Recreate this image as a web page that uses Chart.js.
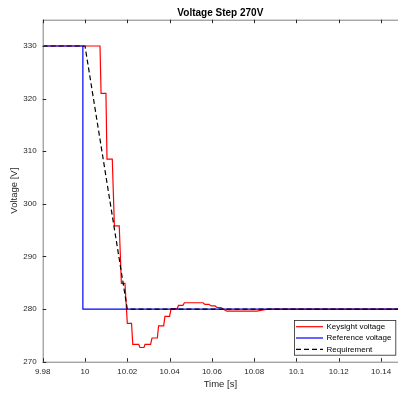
<!DOCTYPE html>
<html>
<head>
<meta charset="utf-8">
<script src="https://cdn.jsdelivr.net/npm/chart.js@4/dist/chart.umd.min.js"></script>
<style>
  html, body { margin: 0; padding: 0; background: #fff; overflow: hidden; }
  #wrap { width: 398px; height: 394px; }
</style>
</head>
<body>
<div id="wrap"><canvas id="c" width="398" height="394"></canvas></div>
<script>
// Axis ticks
const xTicks = [9.98, 10, 10.02, 10.04, 10.06, 10.08, 10.1, 10.12, 10.14];
const yTicks = [270, 280, 290, 300, 310, 320, 330];

// Measured output of the Keysight source (time in s, voltage in V)
const keysightTime = [9.98, 10.0071, 10.0076, 10.0099, 10.0104, 10.0129, 10.0139, 10.0162, 10.0172, 10.0189,
  10.0200, 10.0220, 10.0226, 10.0254, 10.0260, 10.0279, 10.0284, 10.0310, 10.0317, 10.0342,
  10.0348, 10.0372, 10.0378, 10.0400, 10.0407, 10.0436, 10.0442, 10.0463, 10.0470, 10.0558,
  10.0567, 10.0586, 10.0596, 10.0615, 10.0624, 10.0643, 10.0653, 10.0671, 10.0813, 10.0837,
  10.0865, 10.148];
const keysightVolt = [330, 330, 321, 321, 308.5, 308.5, 295.8, 295.8, 284.9, 284.9,
  277.3, 277.3, 273.3, 273.3, 272.7, 272.7, 273.3, 273.3, 274.5, 274.5,
  276.8, 276.8, 278.6, 278.6, 280.1, 280.1, 280.7, 280.7, 281.2, 281.2,
  280.9, 280.9, 280.6, 280.6, 280.3, 280.3, 280.0, 279.6, 279.6, 279.8,
  280.0, 280.0];

// Commanded reference step
const referenceTime = [9.98, 9.999, 9.999, 10.148];
const referenceVolt = [330, 330, 280, 280];

// Slew-rate requirement envelope
const requirementTime = [9.98, 10.0, 10.02, 10.148];
const requirementVolt = [330, 330, 280, 280];

const seriesNames = ['Keysight voltage', 'Reference voltage', 'Requirement'];
const titleText = 'Voltage Step 270V';
const xLabel = 'Time [s]';
const yLabel = 'Voltage [V]';

const zip = (xs, ys) => xs.map((x, i) => ({ x: x, y: ys[i] }));

const FONT = '"Liberation Sans", Arial, Helvetica, sans-serif';
const TEXT = '#262626';

// Box, inward tick marks, title and legend in the MATLAB figure style
const figureStyle = {
  id: 'figureStyle',
  afterDraw(chart) {
    const ctx = chart.ctx;
    const a = chart.chartArea;
    const xs = chart.scales.x, ys = chart.scales.y;
    const tl = 3.5;
    ctx.save();
    // axis lines
    ctx.strokeStyle = '#808080';
    ctx.lineWidth = 1;
    ctx.beginPath();
    ctx.moveTo(a.left + 0.5, a.top + 0.5);
    ctx.lineTo(a.right + 1, a.top + 0.5);
    ctx.moveTo(a.left + 0.5, a.top);
    ctx.lineTo(a.left + 0.5, a.bottom + 0.5);
    ctx.lineTo(a.right + 1, a.bottom + 0.5);
    ctx.stroke();
    // inward ticks
    ctx.strokeStyle = '#262626';
    ctx.beginPath();
    xTicks.forEach(v => {
      const px = Math.round(xs.getPixelForValue(v)) + 0.5;
      ctx.moveTo(px, a.bottom); ctx.lineTo(px, a.bottom - tl);
      ctx.moveTo(px, a.top); ctx.lineTo(px, a.top + tl);
    });
    yTicks.forEach(v => {
      const py = Math.round(ys.getPixelForValue(v)) + 0.5;
      ctx.moveTo(a.left, py); ctx.lineTo(a.left + tl, py);
    });
    ctx.stroke();

    // title
    ctx.fillStyle = '#000';
    ctx.font = 'bold 10px ' + FONT;
    ctx.textAlign = 'center';
    ctx.textBaseline = 'middle';
    ctx.fillText(titleText, (a.left + a.right) / 2, 13);

    // legend
    const ds = chart.data.datasets;
    const bx = a.right - 104, by = a.bottom - 41.7, bw = 101.3, bh = 34.7;
    ctx.fillStyle = '#fff';
    ctx.fillRect(bx, by, bw, bh);
    ctx.strokeStyle = '#262626';
    ctx.lineWidth = 0.8;
    ctx.strokeRect(bx + 0.5, by + 0.5, bw, bh);
    ctx.font = '8px ' + FONT;
    ctx.textAlign = 'left';
    ctx.textBaseline = 'middle';
    ds.forEach((d, i) => {
      const ry = by + 6.7 + i * 11.3;
      ctx.save();
      ctx.strokeStyle = d.borderColor;
      ctx.lineWidth = d.borderWidth;
      ctx.setLineDash(d.borderDash || []);
      ctx.beginPath();
      ctx.moveTo(bx + 2, ry); ctx.lineTo(bx + 29, ry);
      ctx.stroke();
      ctx.restore();
      ctx.fillStyle = '#000';
      ctx.fillText(d.label, bx + 32.5, ry);
    });
    ctx.restore();
  }
};

new Chart(document.getElementById('c'), {
  type: 'line',
  data: {
    datasets: [
      { label: seriesNames[0], data: zip(keysightTime, keysightVolt), borderColor: '#ff0000', borderWidth: 1.2, order: 3 },
      { label: seriesNames[1], data: zip(referenceTime, referenceVolt), borderColor: '#0000ff', borderWidth: 1.2, order: 2 },
      { label: seriesNames[2], data: zip(requirementTime, requirementVolt), borderColor: '#000000', borderWidth: 1.2, borderDash: [5, 3], order: 1 }
    ]
  },
  options: {
    responsive: false,
    devicePixelRatio: 1,
    animation: false,
    elements: { point: { radius: 0 }, line: { tension: 0 } },
    layout: { padding: { top: 19.7, right: 0, left: 0, bottom: 0 } },
    plugins: { legend: { display: false }, tooltip: { enabled: false }, title: { display: false } },
    scales: {
      x: {
        type: 'linear',
        min: 9.98,
        max: 10.148,
        afterBuildTicks: s => { s.ticks = xTicks.map(v => ({ value: v })); },
        afterFit: s => { s.height = 32.3; },
        grid: { display: false, drawTicks: false },
        border: { display: false },
        ticks: {
          padding: 5,
          maxRotation: 0,
          autoSkip: false,
          color: TEXT,
          font: { family: FONT, size: 8 },
          callback: v => Number(Number(v).toFixed(2)).toString()
        },
        title: { display: true, text: xLabel, color: TEXT, font: { family: FONT, size: 9.5 }, padding: { top: 0, bottom: 4 } }
      },
      y: {
        type: 'linear',
        min: 270,
        max: 335,
        afterBuildTicks: s => { s.ticks = yTicks.map(v => ({ value: v })); },
        afterFit: s => { s.width = 42.7; },
        grid: { display: false, drawTicks: false },
        border: { display: false },
        ticks: {
          padding: 6,
          color: TEXT,
          font: { family: FONT, size: 8 },
          callback: v => String(v)
        },
        title: { display: true, text: yLabel, color: TEXT, font: { family: FONT, size: 9.5 }, padding: { top: 9, bottom: 0 } }
      }
    }
  },
  plugins: [figureStyle]
});
</script>
</body>
</html>
